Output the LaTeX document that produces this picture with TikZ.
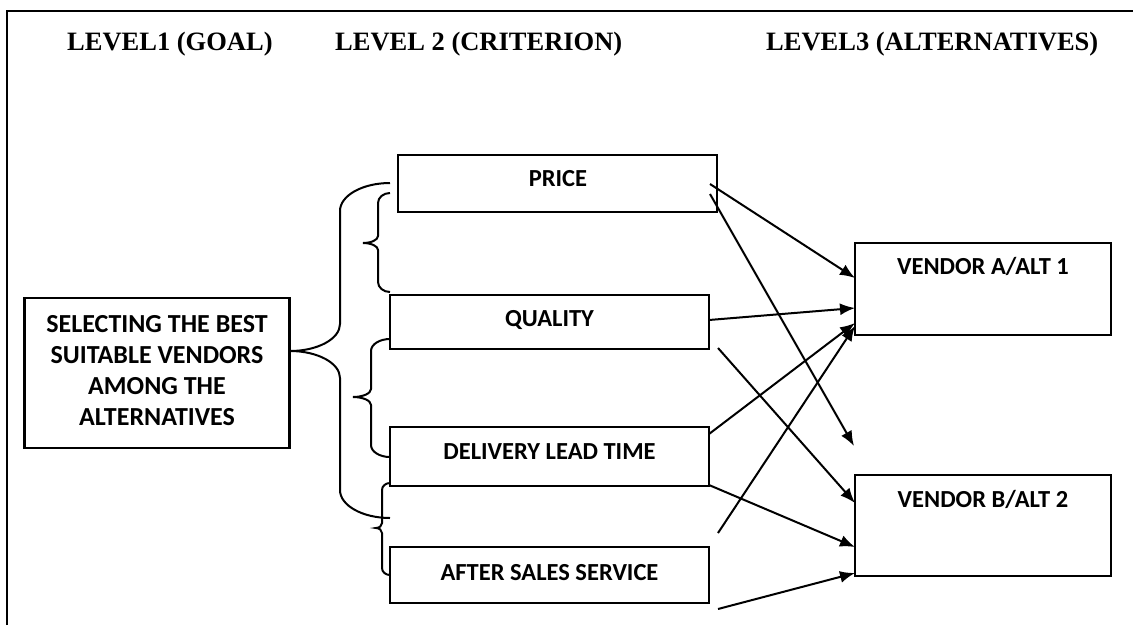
\documentclass[tikz,border=0pt]{standalone}
\usepackage{fontspec}
\setmainfont{Liberation Serif}
\newfontfamily\boxfont{Carlito}
\usetikzlibrary{arrows.meta}
\tikzset{
  boxnode/.style={draw, line width=2.2pt, inner sep=0pt},
  boxtext/.style={font=\boxfont\bfseries\fontsize{24.5}{24.5}\selectfont, inner sep=0pt},
  goalfont/.style={font=\boxfont\bfseries\fontsize{26}{26}\selectfont, inner sep=0pt},
  headtext/.style={font=\bfseries\fontsize{26.5}{26.5}\selectfont, inner sep=0pt, anchor=base west},
  conn/.style={line width=2pt, -{Latex[length=15pt,width=12pt]}},
  bracestroke/.style={line width=2pt},
  framestroke/.style={line width=2pt}
}
% brace: xe xv xt ytop ymid ybot r1 r2
\newcommand\mybrace[8]{%
  \draw[bracestroke] (#1,#4)
    .. controls ({#1-0.552*(#1-#2)},#4) and (#2,{#4+#7-0.552*#7}) .. (#2,{#4+#7})
    -- (#2,{#5-#8})
    .. controls (#2,{#5-#8+0.552*#8}) and ({#3+0.552*(#2-#3)},#5) .. (#3,#5)
    .. controls ({#3+0.552*(#2-#3)},#5) and (#2,{#5+#8-0.552*#8}) .. (#2,{#5+#8})
    -- (#2,{#6-#7})
    .. controls (#2,{#6-#7+0.552*#7}) and ({#1-0.552*(#1-#2)},#6) .. (#1,#6);}
\begin{document}
\begin{tikzpicture}[x=1pt,y=-1pt]
\useasboundingbox (0,0) rectangle (1133,625);
% frame
\coordinate (fbl) at (7,625);
\coordinate (ftl) at (7,10.5);
\coordinate (ftr) at (1133,10.5);
\draw[framestroke] (fbl) -- (ftl) -- (ftr);
% headings
\node[headtext] (h1) at (67,50) {LEVEL1 (GOAL)};
\node[headtext] (h2) at (335,50) {LEVEL 2 (CRITERION)};
\node[headtext] (h3) at (766,50) {LEVEL3 (ALTERNATIVES)};
% boxes
\node[boxnode, minimum width=265pt, minimum height=150pt] (goal) at (157,373) {};
\node[boxnode, minimum width=319pt, minimum height=57pt] (price) at (557.5,183.5) {};
\node[boxnode, minimum width=319pt, minimum height=54pt] (quality) at (549.5,322) {};
\node[boxnode, minimum width=319pt, minimum height=59pt] (delivery) at (549.5,456.5) {};
\node[boxnode, minimum width=319pt, minimum height=56pt] (after) at (549.5,575) {};
\node[boxnode, minimum width=256pt, minimum height=92pt] (venA) at (983,289) {};
\node[boxnode, minimum width=256pt, minimum height=101pt] (venB) at (983,525.5) {};
% texts
\node[goalfont, align=center] (goaltext) at (157,371) {SELECTING THE BEST\\[5pt]SUITABLE VENDORS\\[5pt]AMONG THE\\[5pt]ALTERNATIVES};
\node[boxtext] (pricetext) at (558,178.5) {PRICE};
\node[boxtext] (qualitytext) at (549.5,320) {QUALITY};
\node[boxtext] (deliverytext) at (549.5,452) {DELIVERY LEAD TIME};
\node[boxtext] (aftertext) at (549.5,572.5) {AFTER SALES SERVICE};
\node[boxtext] (venAtext) at (983,266.5) {VENDOR A/ALT 1};
\node[boxtext] (venBtext) at (983,499.5) {VENDOR B/ALT 2};
% braces
\mybrace{390}{340}{290}{183}{351}{518}{28}{27}
\mybrace{390}{378}{363}{193}{243}{292}{10}{7}
\mybrace{390}{371}{353}{339}{397}{457}{12}{8}
\mybrace{390}{382}{376}{483}{528}{575}{7}{5}
% connector end points
\coordinate (p1) at (710,184);
\coordinate (p2) at (710,194);
\coordinate (q1) at (709,320);
\coordinate (q2) at (718,348);
\coordinate (d1) at (709,434);
\coordinate (d2) at (709,485);
\coordinate (a1) at (718,533);
\coordinate (a2) at (718,609);
\coordinate (vA1) at (855,278);
\coordinate (vA2) at (855,308);
\coordinate (vA3) at (855,323);
\coordinate (vA4) at (855,326);
\coordinate (free) at (854,446);
\coordinate (vB1) at (855,503);
\coordinate (vB2) at (855,547);
\coordinate (vB3) at (855,573);
\draw[conn] (p1) -- (vA1);
\draw[conn] (p2) -- (free);
\draw[conn] (q1) -- (vA2);
\draw[conn] (q2) -- (vB1);
\draw[conn] (d1) -- (vA3);
\draw[conn] (d2) -- (vB2);
\draw[conn] (a1) -- (vA4);
\draw[conn] (a2) -- (vB3);
\end{tikzpicture}
\end{document}
